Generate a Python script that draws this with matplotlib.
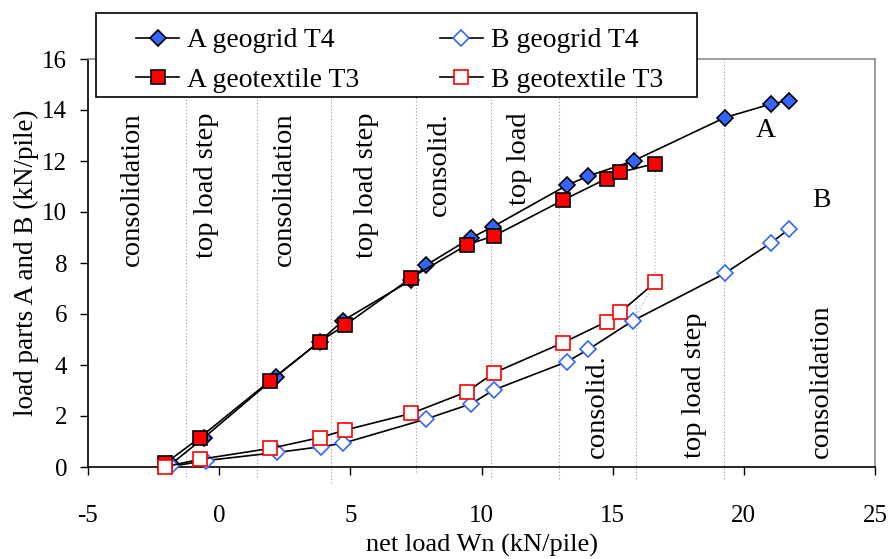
import matplotlib
matplotlib.use('Agg')
import matplotlib.pyplot as plt
from matplotlib.patches import Rectangle

plt.rcParams['font.family'] = ['Liberation Serif', 'DejaVu Serif']
plt.rcParams['axes.unicode_minus'] = False

# A = load part to piles, B = load part to subsoil (kN/pile) vs net load Wn
a_grid_x = [-1.85, -0.58, 2.16, 3.83, 4.72, 7.32, 7.88, 9.59, 10.43, 13.26, 14.07, 15.80, 19.27, 21.05, 21.72]
a_grid_y = [0.10, 1.15, 3.54, 4.92, 5.74, 7.33, 7.91, 8.98, 9.42, 11.05, 11.41, 12.01, 13.70, 14.24, 14.37]
b_grid_x = [-1.85, -0.52, 2.21, 3.90, 4.72, 7.88, 9.61, 10.46, 13.26, 14.07, 15.78, 19.27, 21.05, 21.72]
b_grid_y = [0.02, 0.25, 0.57, 0.80, 0.93, 1.88, 2.48, 3.02, 4.13, 4.61, 5.74, 7.59, 8.80, 9.33]
a_tex_x = [-2.06, -0.74, 1.95, 3.83, 4.81, 7.32, 9.44, 10.49, 13.12, 14.77, 15.29, 16.62]
a_tex_y = [0.14, 1.15, 3.39, 4.92, 5.57, 7.42, 8.71, 9.07, 10.47, 11.31, 11.56, 11.90]
b_tex_x = [-2.06, -0.74, 1.95, 3.83, 4.81, 7.32, 9.44, 10.49, 13.12, 14.77, 15.29, 16.62]
b_tex_y = [0.01, 0.30, 0.73, 1.15, 1.45, 2.10, 2.95, 3.70, 4.88, 5.70, 6.07, 7.24]

# phase boundaries (dotted) and how far they drop below the axis
phase_x = [-1.28, 1.44, 4.25, 7.51, 10.37, 12.97, 15.88, 19.25]
phase_bottom = [-0.4, -0.4, -0.63, -0.2, -0.4, -0.47, -0.47, -0.47]

# extra dotted link between the last points
link_x = [15.80, 16.62, 16.62, 15.78]
link_y = [12.01, 11.90, 7.24, 5.74]

upper_labels = ['consolidation', 'top load step', 'consolidation', 'top load step', 'consolid.', 'top load']
upper_x = [-3.29, -0.47, 2.50, 5.62, 8.40, 11.44]
lower_labels = ['consolid.', 'top load step', 'consolidation']
lower_x = [14.41, 18.11, 22.94]

blue = '#3366ff'
red = '#ff0000'

fig = plt.figure(figsize=(8.9, 5.59), dpi=100)
ax = fig.add_axes([88 / 890, 1 - 467 / 559, 787 / 890, 408 / 559])

for x, yb in zip(phase_x, phase_bottom):
    ax.plot([x, x], [yb, 16], color='0.6', lw=0.8, ls=(0, (1, 2)), clip_on=False, zorder=1)
ax.plot(link_x, link_y, color='0.65', lw=0.8, ls=(0, (1, 2)), zorder=1)

h1, = ax.plot(a_grid_x, a_grid_y, color='black', lw=1.2, marker='D', ms=7.8,
              mfc=blue, mec='black', mew=1.2, label='A geogrid T4', zorder=3, clip_on=False)
h2, = ax.plot(b_grid_x, b_grid_y, color='black', lw=1.2, marker='D', ms=7.8,
              mfc='white', mec=blue, mew=1.2, label='B geogrid T4', zorder=3, clip_on=False)
h3, = ax.plot(a_tex_x, a_tex_y, color='black', lw=1.2, marker='s', ms=9.5,
              mfc=red, mec='black', mew=1.2, label='A geotextile T3', zorder=4, clip_on=False)
h4, = ax.plot(b_tex_x, b_tex_y, color='black', lw=1.2, marker='s', ms=9.5,
              mfc='white', mec=red, mew=1.2, label='B geotextile T3', zorder=4, clip_on=False)

for t, x in zip(upper_labels, upper_x):
    ax.text(x, 13.9, t, rotation=90, ha='center', va='top', fontsize=20.5)
for t, x in zip(lower_labels, lower_x):
    ax.text(x, 0.35, t, rotation=90, ha='center', va='bottom', fontsize=20.5)
ax.text(20.85, 13.18, 'A', ha='center', va='center', fontsize=20)
ax.text(22.94, 10.47, 'B', ha='center', va='center', fontsize=20)

ax.set_xlim(-5, 25)
ax.set_ylim(0, 16)
ax.set_xticks(range(-5, 26, 5))
ax.set_yticks(range(0, 17, 2))
ax.tick_params(axis='both', direction='out', length=6, width=1, labelsize=18)
ax.tick_params(axis='x', pad=21)
ax.tick_params(axis='y', pad=9)
ax.tick_params(top=False, right=False)
for s in ['left', 'bottom']:
    ax.spines[s].set_color('black')
    ax.spines[s].set_linewidth(1.2)
for s in ['top', 'right']:
    ax.spines[s].set_color('0.55')
    ax.spines[s].set_linewidth(1.2)

ax.set_xlabel('net load Wn (kN/pile)', fontsize=19, labelpad=5)
ax.set_ylabel('load parts A and B (kN/pile)', fontsize=19.5, labelpad=2)

frame = Rectangle((96 / 890, 1 - 97 / 559), 601 / 890, 84 / 559, transform=fig.transFigure,
                  facecolor='white', edgecolor='black', lw=1.2, zorder=5)
fig.add_artist(frame)
leg = fig.legend([h1, h3, h2, h4], ['A geogrid T4', 'A geotextile T3', 'B geogrid T4', 'B geotextile T3'],
                 ncol=2, loc='upper left', bbox_to_anchor=(136 / 890, 1 - 28 / 559),
                 frameon=False, fontsize=20, borderpad=0, borderaxespad=0,
                 handlelength=1.55, handletextpad=0.3, columnspacing=2.88, labelspacing=0.5)
leg.set_zorder(6)

fig.savefig('out.png', dpi=100)
